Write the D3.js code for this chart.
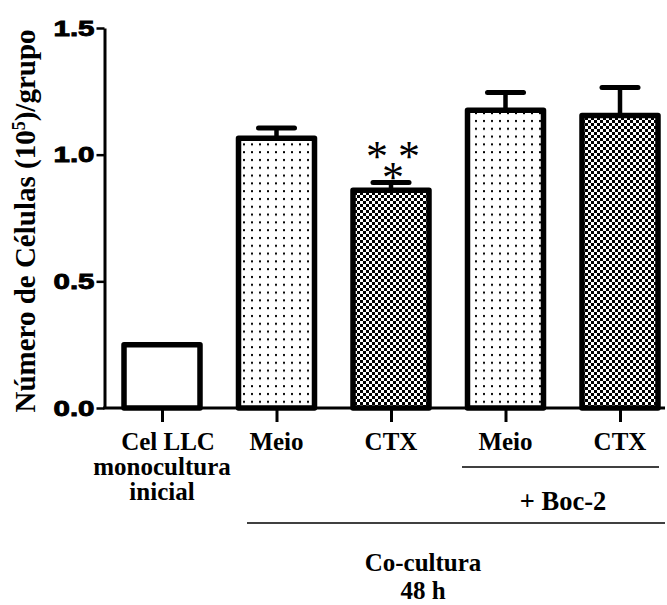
<!DOCTYPE html>
<html>
<head>
<meta charset="utf-8">
<script src="https://cdn.jsdelivr.net/npm/d3@7"></script>
<style>
  body { margin: 0; background: #fff; }
  svg { display: block; }
  .tick text { font-family: 'Liberation Sans', Arial, sans-serif; font-weight: bold; }
  .lbl { font-family: 'Liberation Serif', 'Times New Roman', serif; font-weight: bold; fill: #000; }
</style>
</head>
<body>
<svg width="667" height="605"></svg>
<script>
var categories = ['Cel LLC monocultura inicial', 'Meio', 'CTX', 'Meio + Boc-2', 'CTX + Boc-2'];
var categoryLines = [['Cel LLC', 'monocultura', 'inicial'], ['Meio'], ['CTX'], ['Meio'], ['CTX']];
var means = [0.25, 1.065, 0.86, 1.175, 1.155];
var sems = [0, 0.04, 0.03, 0.07, 0.11];
var yTicks = [0, 0.5, 1.0, 1.5];
var fills = ['#fff', 'url(#dots)', 'url(#checker)', 'url(#dots)', 'url(#checker)'];

var svg = d3.select('svg');

var x = d3.scalePoint().domain(categories).range([162, 620]);
var y = d3.scaleLinear().domain([0, 1.5]).range([408, 28]);
var barWidth = 76;

// patterns
var defs = svg.append('defs');
var dots = defs.append('pattern').attr('id', 'dots')
  .attr('patternUnits', 'userSpaceOnUse').attr('width', 8).attr('height', 7.8);
dots.append('rect').attr('width', 8).attr('height', 7.8).attr('fill', '#fff');
dots.append('rect').attr('x', 3).attr('y', 3).attr('width', 2).attr('height', 2).attr('fill', '#000');

var checker = defs.append('pattern').attr('id', 'checker')
  .attr('patternUnits', 'userSpaceOnUse').attr('width', 6).attr('height', 6);
checker.append('rect').attr('width', 6).attr('height', 6).attr('fill', '#fff');
checker.append('rect').attr('width', 3).attr('height', 3).attr('fill', '#000');
checker.append('rect').attr('x', 3).attr('y', 3).attr('width', 3).attr('height', 3).attr('fill', '#000');

// bars
svg.append('g').selectAll('rect')
  .data(means)
  .enter()
  .append('rect')
  .attr('x', (d, i) => x(categories[i]) - barWidth / 2)
  .attr('y', (d) => y(d))
  .attr('width', barWidth)
  .attr('height', (d) => y(0) - y(d))
  .attr('fill', (d, i) => fills[i])
  .attr('stroke', '#000')
  .attr('stroke-width', 5.5)
  .attr('stroke-linejoin', 'round');

// error bars
var err = svg.append('g').attr('stroke', '#000').attr('stroke-linecap', 'round');
means.forEach(function(m, i) {
  if (!sems[i]) return;
  var cx = x(categories[i]);
  err.append('line')
    .attr('x1', cx).attr('x2', cx)
    .attr('y1', y(m) - 2).attr('y2', y(m + sems[i]))
    .attr('stroke-width', 4.5).attr('stroke-linecap', 'butt');
  err.append('line')
    .attr('x1', cx - 18).attr('x2', cx + 18)
    .attr('y1', y(m + sems[i])).attr('y2', y(m + sems[i]))
    .attr('stroke-width', 5);
});

// y axis
var yAxis = svg.append('g')
  .attr('transform', 'translate(104.5,0)')
  .call(d3.axisLeft(y).tickValues(yTicks).tickFormat(d3.format('.1f')).tickSize(8).tickSizeOuter(0).tickPadding(2));
yAxis.select('.domain').attr('stroke-width', 3);
yAxis.selectAll('.tick line').attr('stroke-width', 2.5);
yAxis.selectAll('.tick text').attr('font-size', 22).attr('fill', '#000')
  .attr('stroke', '#000').attr('stroke-width', 0.9)
  .attr('textLength', 41).attr('lengthAdjust', 'spacingAndGlyphs');

// x axis
var xAxis = svg.append('g')
  .attr('transform', 'translate(0,408)')
  .call(d3.axisBottom(x).tickSize(14).tickFormat(''));
xAxis.select('.domain').remove();
xAxis.selectAll('.tick line').attr('stroke-width', 3);
svg.append('line')
  .attr('x1', 103).attr('x2', 665).attr('y1', 408).attr('y2', 408)
  .attr('stroke', '#000').attr('stroke-width', 3);

// category labels
categoryLines.forEach(function(lines, i) {
  var t = svg.append('text').attr('class', 'lbl')
    .attr('text-anchor', 'middle').attr('font-size', 25)
    .attr('x', x(categories[i])).attr('y', 450);
  lines.forEach(function(s, j) {
    t.append('tspan')
      .attr('x', x(categories[i]) + (lines.length > 1 && j === 0 ? 6 : 0))
      .attr('dy', j ? 25 : 0).text(s);
  });
});

// group brackets
svg.append('line').attr('x1', 462).attr('x2', 659).attr('y1', 467).attr('y2', 467)
  .attr('stroke', '#000').attr('stroke-width', 1.5);
svg.append('text').attr('class', 'lbl').attr('text-anchor', 'middle').attr('font-size', 26.5)
  .attr('x', 563).attr('y', 510).text('+ Boc-2');
svg.append('line').attr('x1', 247).attr('x2', 665).attr('y1', 523).attr('y2', 523)
  .attr('stroke', '#000').attr('stroke-width', 1.5);
svg.append('text').attr('class', 'lbl').attr('text-anchor', 'middle').attr('font-size', 25)
  .attr('x', 423).attr('y', 571).text('Co-cultura');
svg.append('text').attr('class', 'lbl').attr('text-anchor', 'middle').attr('font-size', 25)
  .attr('x', 423).attr('y', 599).text('48 h');

// y title
var yt = svg.append('text').attr('class', 'lbl').attr('text-anchor', 'middle').attr('font-size', 29)
  .attr('transform', 'translate(35,221) rotate(-90)');
yt.append('tspan').text('Número de Células (10');
yt.append('tspan').attr('font-size', 18).attr('dy', -10).text('5');
yt.append('tspan').attr('dy', 10).text(')/grupo');

// significance
var star = svg.append('text').attr('font-family', 'Liberation Serif, serif').attr('font-size', 44)
  .attr('text-anchor', 'middle');
[[377, 150], [409, 150], [393, 171]].forEach(function(p) {
  star.append('tspan').attr('x', p[0]).attr('y', p[1] + 21).text('*');
});
</script>
</body>
</html>
